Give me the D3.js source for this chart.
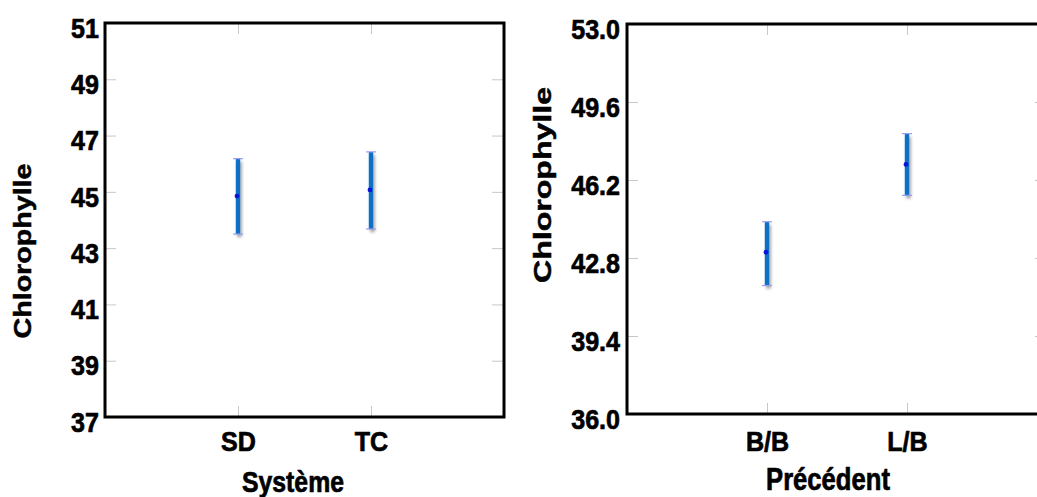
<!DOCTYPE html>
<html>
<head>
<meta charset="utf-8">
<script src="https://cdn.jsdelivr.net/npm/d3@7"></script>
<style>
  html, body { margin: 0; padding: 0; background: #fff; }
  svg { display: block; }
  .tick-label { font-family: "Liberation Sans", Arial, sans-serif; font-weight: bold; fill: #000; stroke: #000; stroke-width: 0.7px; }
  .ytitle { font-family: "Liberation Sans", Arial, sans-serif; font-weight: bold; fill: #000; stroke: #000; stroke-width: 0.5px; }
</style>
</head>
<body>
<svg id="chart" width="1037" height="497"></svg>
<script>
// Chlorophyll means with confidence intervals, by cropping system
const systemCategories = ["SD", "TC"];
const systemMeans = [44.85, 45.07];
const systemLower = [43.5, 43.68];
const systemUpper = [46.18, 46.42];
const systemTicks = [37, 39, 41, 43, 45, 47, 49, 51];

// Chlorophyll means with confidence intervals, by preceding crop
const precedentCategories = ["B/B", "L/B"];
const precedentMeans = [43.05, 46.88];
const precedentLower = [41.6, 45.53];
const precedentUpper = [44.38, 48.22];
const precedentTicks = [36.0, 39.4, 42.8, 46.2, 49.6, 53.0];

// horizontal squeeze giving a narrow bold face
const TICK_NARROW = 0.88;
const TITLE_NARROW = 0.84;

const svg = d3.select("#chart");

const defs = svg.append("defs");
const shadow = defs.append("filter").attr("id", "barShadow")
  .attr("filterUnits", "userSpaceOnUse")
  .attr("x", 0).attr("y", 0).attr("width", 1037).attr("height", 497);
shadow.append("feDropShadow")
  .attr("dx", 1.5).attr("dy", 3).attr("stdDeviation", 1.7)
  .attr("flood-color", "#000").attr("flood-opacity", 0.4);

function narrow(k) {
  return sel => sel.each(function () {
    const t = d3.select(this);
    const x = +t.attr("x") || 0;
    t.attr("x", x / k).attr("transform", `scale(${k},1)`);
  });
}

function drawPanel(cfg) {
  const g = svg.append("g");
  const x = d3.scalePoint().domain(cfg.categories).range([cfg.left, cfg.right]).padding(1);
  const y = d3.scaleLinear().domain([cfg.ticks[0], cfg.ticks[cfg.ticks.length - 1]]).range([cfg.bottom, cfg.top]);

  // light inner tick marks on all four sides
  const tickColor = "#c8c8c8";
  const left = g.append("g").attr("transform", `translate(${cfg.left},0)`)
    .call(d3.axisLeft(y).tickValues(cfg.ticks).tickFormat(cfg.fmt).tickSizeInner(-11).tickSizeOuter(0).tickPadding(cfg.labelGap));
  left.select(".domain").remove();
  left.selectAll(".tick line").attr("stroke", tickColor);
  left.selectAll(".tick text").attr("class", "tick-label").style("font-size", cfg.tickFont + "px").attr("dy", "0.5em").call(narrow(TICK_NARROW));

  const right = g.append("g").attr("transform", `translate(${cfg.right},0)`)
    .call(d3.axisRight(y).tickValues(cfg.ticks).tickFormat("").tickSizeInner(-12).tickSizeOuter(0));
  right.select(".domain").remove();
  right.selectAll(".tick line").attr("stroke", tickColor);

  const bottom = g.append("g").attr("transform", `translate(0,${cfg.bottom})`)
    .call(d3.axisBottom(x).tickSizeInner(-11).tickSizeOuter(0).tickPadding(cfg.catGap));
  bottom.select(".domain").remove();
  bottom.selectAll(".tick line").attr("stroke", tickColor);
  bottom.selectAll(".tick text").attr("class", "tick-label").style("font-size", cfg.tickFont + "px").call(narrow(TICK_NARROW));

  const top = g.append("g").attr("transform", `translate(0,${cfg.top})`)
    .call(d3.axisTop(x).tickFormat("").tickSizeInner(-11).tickSizeOuter(0));
  top.select(".domain").remove();
  top.selectAll(".tick line").attr("stroke", tickColor);

  // plot frame
  g.append("rect")
    .attr("x", cfg.left).attr("y", cfg.top)
    .attr("width", cfg.right - cfg.left).attr("height", cfg.bottom - cfg.top)
    .attr("fill", "none").attr("stroke", "#000").attr("stroke-width", 3);

  // interval bars
  const rows = cfg.categories.map((c, i) => ({ c, m: cfg.means[i], lo: cfg.lower[i], hi: cfg.upper[i] }));
  const bars = g.append("g").selectAll("g").data(rows).join("g");
  bars.append("rect")
    .attr("x", d => x(d.c) - 2.2).attr("width", 4.4)
    .attr("y", d => y(d.hi)).attr("height", d => y(d.lo) - y(d.hi))
    .attr("fill", "#0b6fc4")
    .attr("filter", "url(#barShadow)");
  ["hi", "lo"].forEach(k => {
    bars.append("line")
      .attr("x1", d => x(d.c) - 5).attr("x2", d => x(d.c) + 5)
      .attr("y1", d => y(d[k])).attr("y2", d => y(d[k]))
      .attr("stroke", "#9a9af0").attr("stroke-width", 1.2);
  });
  bars.append("circle")
    .attr("cx", d => x(d.c) - 1).attr("cy", d => y(d.m)).attr("r", 2.4)
    .attr("fill", "#0a14d8");

  // axis titles
  g.append("text").attr("class", "tick-label")
    .attr("x", cfg.xTitleX).attr("y", cfg.xTitleY)
    .attr("text-anchor", "middle").style("font-size", cfg.xTitleFont + "px")
    .text(cfg.xTitle)
    .call(narrow(TITLE_NARROW));
  g.append("text").attr("class", "ytitle")
    .attr("transform", `translate(${cfg.yTitleX},${cfg.yTitleY}) rotate(-90)`)
    .attr("text-anchor", "middle").attr("dy", "0.35em")
    .attr("textLength", cfg.yTitleLen).attr("lengthAdjust", "spacingAndGlyphs")
    .style("font-size", "24px")
    .text("Chlorophylle");
}

drawPanel({
  categories: systemCategories, means: systemMeans, lower: systemLower, upper: systemUpper,
  ticks: systemTicks, fmt: d3.format("d"),
  left: 105, right: 504, top: 23, bottom: 417,
  labelGap: 6, catGap: 14, tickFont: 28.5,
  xTitle: "Système", xTitleX: 293, xTitleY: 492, xTitleFont: 29.5,
  yTitleX: 23, yTitleY: 251, yTitleLen: 175
});

drawPanel({
  categories: precedentCategories, means: precedentMeans, lower: precedentLower, upper: precedentUpper,
  ticks: precedentTicks, fmt: d3.format(".1f"),
  left: 627, right: 1047, top: 24, bottom: 414,
  labelGap: 7, catGap: 17, tickFont: 28.5,
  xTitle: "Précédent", xTitleX: 828, xTitleY: 490, xTitleFont: 30.5,
  yTitleX: 543, yTitleY: 185, yTitleLen: 196
});
</script>
</body>
</html>
